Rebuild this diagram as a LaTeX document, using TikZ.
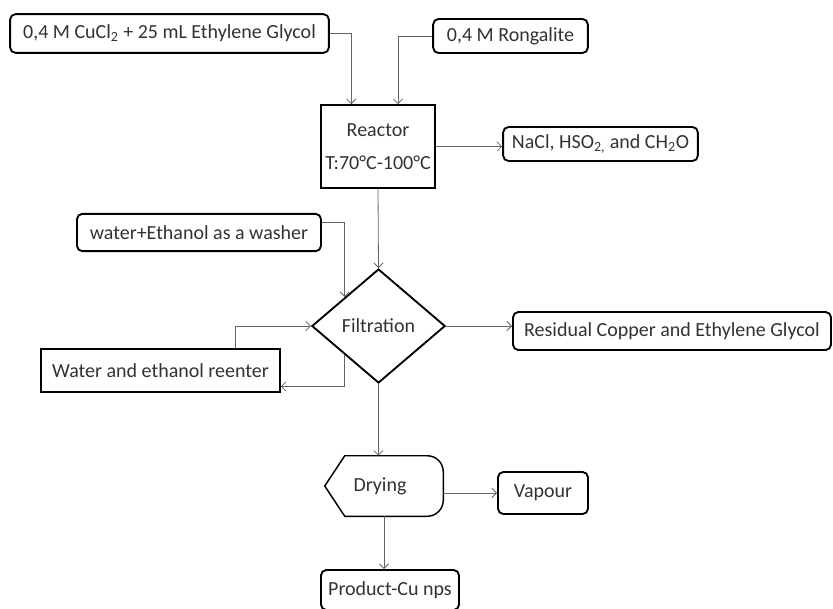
\documentclass[tikz,border=0pt]{standalone}
\usepackage{fontspec}
\setmainfont{Carlito}
\usetikzlibrary{shapes.geometric,arrows.meta}
\definecolor{linegray}{RGB}{100,100,100}
\definecolor{textgray}{RGB}{50,50,50}
\tikzset{
	roundbox/.style={draw=black, line width=1.4pt, rounded corners=4pt, text=textgray, inner sep=0pt, font=\fontsize{15}{18}\selectfont},
	sharpbox/.style={roundbox, rounded corners=0pt},
	flow/.style={-{Straight Barb[length=3.5pt,width=7pt]}, draw=linegray, line width=0.6pt},
}

\begin{document}
\begin{tikzpicture}[x=0.75pt, y=-0.75pt]
		\useasboundingbox (0,0) rectangle (833,608);
		\node[roundbox, minimum width=239pt, minimum height=29pt] (cucl) at (169.5,33.5) {0,4 M CuCl\textsubscript{2} + 25 mL Ethylene Glycol};
		\node[roundbox, minimum width=116pt, minimum height=25.5pt] (rong) at (510.5,36) {0,4 M Rongalite};
		\node[sharpbox, minimum width=85.5pt, minimum height=62pt, align=center] (reactor) at (378,146.5) {Reactor\\[7pt]T:70°C-100°C};
		\node[roundbox, minimum width=146pt, minimum height=25.5pt] (nacl) at (600.5,144) {NaCl, HSO\textsubscript{2,} and CH\textsubscript{2}O};
		\node[roundbox, minimum width=183pt, minimum height=28pt] (washer) at (199,232.5) {water+Ethanol as a washer};
		\node[diamond, draw=black, line width=1.4pt, inner sep=0pt, aspect=1.17, minimum width=100pt, minimum height=85.5pt, text=textgray, font=\fontsize{15}{18}\selectfont] (filt) at (378.5,326) {Filtration};
		\node[roundbox, minimum width=238.5pt, minimum height=28.5pt] (resid) at (672,331) {Residual Copper and Ethylene Glycol};
		\node[sharpbox, minimum width=179pt, minimum height=32pt] (reenter) at (160.5,370.5) {Water and ethanol reenter};
		\node[minimum width=88.5pt, minimum height=45pt, inner sep=0pt, text=textgray, font=\fontsize{15}{18}\selectfont] (dry) at (384,486) {\hspace*{-6pt}Drying};
		\draw[line width=1.1pt] ([xshift=15pt]dry.north west) -- (dry.west) -- ([xshift=15pt]dry.south west) [rounded corners=12pt] -- (dry.south east) -- (dry.north east) [sharp corners] -- cycle;
		\node[roundbox, minimum width=67.5pt, minimum height=31.5pt] (vap) at (543,493) {Vapour};
		\node[roundbox, minimum width=103.5pt, minimum height=30pt] (prod) at (390,590) {Product-Cu nps};
		\draw[flow] (cucl.east) -| ([xshift=-20pt]reactor.north);
		\draw[flow] (rong.west) -| ([xshift=15pt]reactor.north);
		\draw[flow] (reactor.east) -- (reactor.east -| nacl.west);
		\draw[flow] (reactor.south) -- (filt.north);
		\draw[flow] ([yshift=7.5pt]washer.east) -| (filt.north west);
		\draw[flow] (filt.east) -- (filt.east -| resid.west);
		\draw[flow] ([xshift=56pt]reenter.north) |- (filt.west);
		\draw[flow] (filt.south west) |- ([yshift=-12pt]reenter.east);
		\draw[flow] (filt.south) -- (filt.south |- dry.north);
		\draw[flow] (vap.west -| dry.east) -- (vap.west);
		\draw[flow] (dry.south) -- (dry.south |- prod.north);
	\end{tikzpicture}
\end{document}
